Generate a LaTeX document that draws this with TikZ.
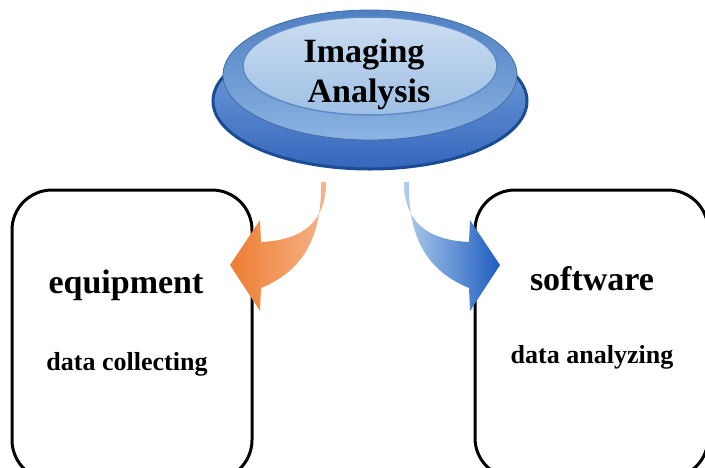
\documentclass[tikz,border=0pt]{standalone}
\usepackage{fontspec}
\setmainfont{Liberation Serif}
\definecolor{discbase}{HTML}{3466BC}
\definecolor{discbasetop}{HTML}{7FA8DF}
\definecolor{discedge}{HTML}{1B4C93}
\definecolor{rimtop}{HTML}{4F80C2}
\definecolor{rimbot}{HTML}{8CB3E2}
\definecolor{captop}{HTML}{CBDDF1}
\definecolor{capbot}{HTML}{9EBFE4}
\definecolor{capedge}{HTML}{5E8CC8}
\definecolor{orgdark}{HTML}{ED7D31}
\definecolor{orglight}{HTML}{F5B48A}
\definecolor{bluelight}{HTML}{B0CDEC}
\definecolor{bluedark}{HTML}{1E5DC0}
\tikzset{
  panel/.style={draw=black, line width=3pt, rounded corners=40pt},
  bigword/.style={anchor=base, font=\fontsize{34}{40}\selectfont\bfseries},
  smallword/.style={anchor=base, font=\fontsize{26}{30}\selectfont\bfseries},
  titleword/.style={anchor=base, font=\fontsize{34}{40}\selectfont\bfseries}
}
\begin{document}
\begin{tikzpicture}[x=1pt,y=-1pt]
\useasboundingbox (0,0) rectangle (705,467);

% the two panels, running off the lower edge
\begin{scope}
  \clip (0,0) rectangle (705,467);
  \draw[panel] (12,190) rectangle (252,480);
  \draw[panel] (475,190) rectangle (708,478);
\end{scope}

% panel captions
\node[bigword] (equip) at (126,293) {equipment};
\node[smallword] (collect) at (127,370) {data collecting};
\node[bigword] (soft) at (592,290) {software};
\node[smallword] (analyze) at (592,363) {data analyzing};

% the disc button
\shade[top color=discbasetop, bottom color=discbase, draw=discedge, line width=3pt]
  (370,101) ellipse [x radius=157, y radius=68];
\shade[top color=rimtop, bottom color=rimbot, draw=rimtop!85!black, line width=0.8pt]
  (370,75) ellipse [x radius=147, y radius=65];
\shade[top color=captop, bottom color=capbot, draw=capedge, line width=1.5pt]
  (370,66) ellipse [x radius=127, y radius=49];
\node[titleword] (title1) at (364,62) {Imaging};
\node[titleword] (title2) at (369,102) {Analysis};

% curved arrows out of the disc
\shade[left color=orgdark, right color=orglight]
  (326,182) .. controls (326,220) and (305,240) .. (261,242)
  -- (260,220) -- (230,265) -- (260,311) -- (261,288)
  .. controls (305,270) and (322,235) .. (321,182) -- cycle;
\shade[left color=bluelight, right color=bluedark]
  (404,182) .. controls (404,220) and (425,240) .. (469,242)
  -- (470,220) -- (500,265) -- (470,311) -- (469,288)
  .. controls (425,270) and (408,235) .. (409,182) -- cycle;
\end{tikzpicture}
\end{document}
